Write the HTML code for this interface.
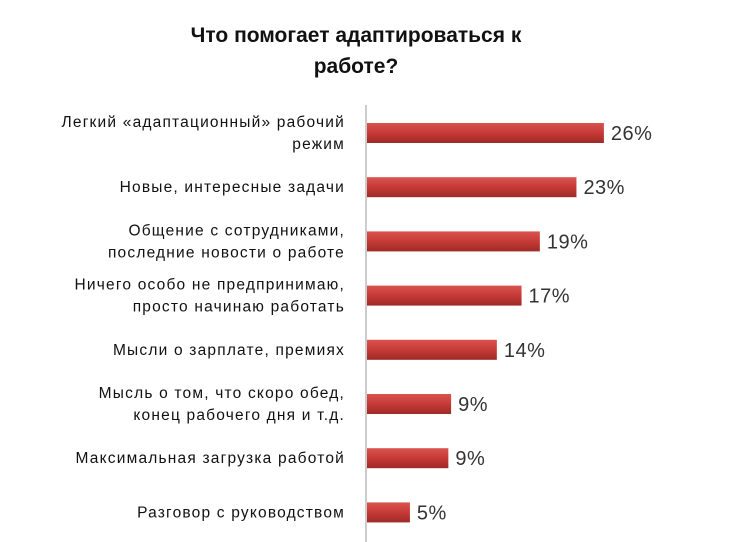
<!DOCTYPE html>
<html><head><meta charset="utf-8">
<style>
body{margin:0;background:#fff;width:751px;height:542px;overflow:hidden;font-family:"Liberation Sans","DejaVu Sans",sans-serif}
#title{position:absolute;left:0;width:712px;top:20px;text-align:center;font-weight:bold;font-size:21px;line-height:31px;color:#111}
</style></head><body>
<div id="title">Что помогает адаптироваться к<br>работе?</div>
<svg id="chart" width="751" height="542" style="position:absolute;left:0;top:0">
<defs>
<linearGradient id="g" x1="0" y1="0" x2="0" y2="1">
<stop offset="0" stop-color="#d9534f"/><stop offset="0.5" stop-color="#c63a36"/><stop offset="1" stop-color="#9e2a27"/>
</linearGradient>
</defs>
</svg>
<script>
const categories=[["Легкий «адаптационный» рабочий","режим"],["Новые, интересные задачи"],["Общение с сотрудниками,","последние новости о работе"],["Ничего особо не предпринимаю,","просто начинаю работать"],["Мысли о зарплате, премиях"],["Мысль о том, что скоро обед,","конец рабочего дня и т.д."],["Максимальная загрузка работой"],["Разговор с руководством"]];
const values=[26,23,19,17,14.3,9.3,9,4.8];
const valueLabels=["26%","23%","19%","17%","14%","9%","9%","5%"];
const svg=document.getElementById('chart');
const NS='http://www.w3.org/2000/svg';
const x0=366, pxPer=9.15, y0=133, step=54.2, bh=20;
const xs=v=>x0+v*pxPer;
const ys=i=>y0+i*step;
const axis=document.createElementNS(NS,'line');
axis.setAttribute('x1',x0);axis.setAttribute('x2',x0);axis.setAttribute('y1',105);axis.setAttribute('y2',542);
axis.setAttribute('stroke','#999');axis.setAttribute('stroke-width','1');


svg.appendChild(axis);
categories.forEach((c,i)=>{
  const cy=ys(i);
  const r=document.createElementNS(NS,'rect');
  r.setAttribute('x',x0+1);r.setAttribute('y',cy-bh/2);r.setAttribute('width',xs(values[i])-x0-1);r.setAttribute('height',bh);
  r.setAttribute('fill','url(#g)');
  
  
  svg.appendChild(r);
  const t=document.createElementNS(NS,'text');
  t.setAttribute('x',xs(values[i])+7);t.setAttribute('y',cy+7);t.setAttribute('font-size','20');t.setAttribute('fill','#333');
  t.setAttribute('letter-spacing','0.5');
  t.textContent=valueLabels[i];
  
  
  svg.appendChild(t);
  const l=document.createElementNS(NS,'text');
  l.setAttribute('text-anchor','end');l.setAttribute('font-size','15.5');l.setAttribute('fill','#111');
  l.setAttribute('letter-spacing','1.2');
  
  
  const n=c.length;
  c.forEach((line,j)=>{
    const ts=document.createElementNS(NS,'tspan');
    ts.setAttribute('x',345);
    ts.setAttribute('y',cy+5+(j-(n-1)/2)*22);
    ts.textContent=line;
    l.appendChild(ts);
  });
  svg.appendChild(l);
});
</script>
</body></html>
